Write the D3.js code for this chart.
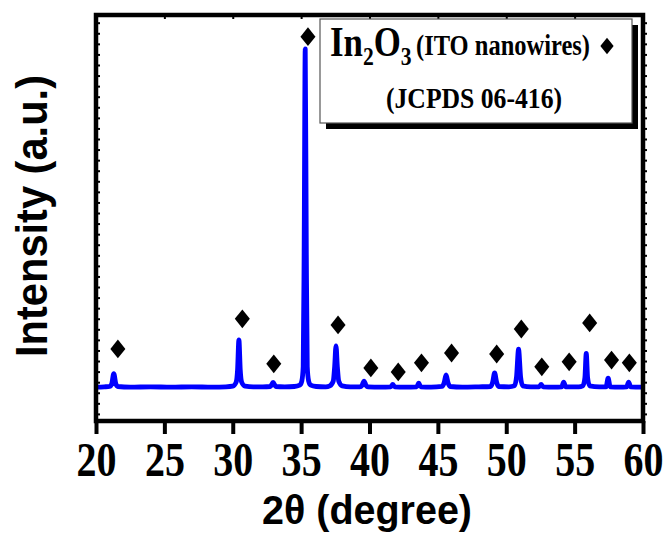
<!DOCTYPE html>
<html>
<head>
<meta charset="utf-8">
<script src="https://cdn.jsdelivr.net/npm/d3@7"></script>
<style>
  body { margin: 0; background: #fff; }
  svg { display: block; }
</style>
</head>
<body>
<svg id="chart" width="670" height="540"></svg>
<script>
// XRD pattern of In2O3 (ITO nanowires): 2θ in degrees, intensity in arbitrary units
const twoTheta = [
  20.0, 20.6, 21.0, 21.15, 21.3, 21.45, 21.6, 22.5, 24.0, 25.5, 27.0, 28.5, 29.5,
  30.0, 30.25, 30.35, 30.45, 30.55, 30.65, 30.9, 31.5, 32.2, 32.75, 32.95, 33.15,
  33.8, 34.5, 34.9, 35.05, 35.15, 35.22, 35.3, 35.38, 35.45, 35.55, 35.7, 36.1,
  36.8, 37.1, 37.35, 37.45, 37.55, 37.65, 37.75, 38.0, 38.6, 39.3, 39.45, 39.6,
  39.75, 39.9, 40.8, 41.55, 41.7, 41.85, 42.6, 43.45, 43.6, 43.75, 44.5, 45.3,
  45.45, 45.6, 45.75, 45.9, 46.8, 48.0, 48.85, 49.0, 49.15, 49.3, 49.45, 50.2,
  50.6, 50.75, 50.9, 51.05, 51.2, 51.8, 52.4, 52.55, 52.7, 53.5, 54.05, 54.2,
  54.35, 55.3, 55.6, 55.75, 55.85, 55.95, 56.1, 56.8, 57.3, 57.45, 57.6, 58.3,
  58.8, 58.95, 59.1, 60.0
];
const intensity = [
  100, 101, 102, 110, 140, 110, 102, 100, 101, 100, 101, 100, 101,
  103, 115, 150, 240, 150, 115, 103, 101, 101, 102, 114, 102,
  101, 102, 106, 118, 160, 500, 1100, 500, 160, 118, 106, 102,
  101, 104, 118, 160, 222, 160, 118, 104, 101, 101, 105, 118,
  105, 101, 100, 101, 108, 101, 100, 101, 112, 101, 100, 102,
  112, 136, 112, 102, 100, 101, 102, 114, 142, 114, 102, 101,
  104, 130, 212, 130, 104, 101, 101, 108, 101, 100, 101, 115,
  101, 101, 104, 128, 200, 128, 104, 101, 101, 127, 101, 100,
  101, 115, 101, 100
];

// In2O3 reflections marked with diamonds (2θ, marker height in the same units)
const markerTheta = [21.6, 30.7, 33.0, 35.5, 37.7, 40.1, 42.1, 43.8, 46.0, 49.3, 51.1, 52.6, 54.6, 56.1, 57.7, 59.0];
const markerLevel = [213, 302, 169, 1136, 284, 157, 145, 172, 201, 198, 272, 160, 175, 290, 180, 172];

const xTicks = [20, 25, 30, 35, 40, 45, 50, 55, 60];
const xTickLabels = ["20", "25", "30", "35", "40", "45", "50", "55", "60"];
const yMinorTicks = d3.range(21, 1200, 31.25);

const xTitle = "2θ (degree)";
const yTitle = "Intensity (a.u.)";
const legendPhase = "(ITO nanowires)";
const legendLine2 = "(JCPDS 06-416)";

const svg = d3.select("#chart");
const x = d3.scaleLinear().domain([20, 60]).range([96, 643]);
const y = d3.scaleLinear().domain([0, 1200]).range([421, 15]);

const serif = "'Liberation Serif', 'Times New Roman', serif";
const sans = "'Liberation Sans', Arial, sans-serif";

// diamond marker: slightly taller than wide
const diamond = {
  draw(ctx, size) {
    const h = Math.sqrt(size) * 0.62, w = h * 0.8;
    ctx.moveTo(0, -h); ctx.lineTo(w, 0); ctx.lineTo(0, h); ctx.lineTo(-w, 0); ctx.closePath();
  }
};

// ---- axes ----
const axBottom = svg.append("g").attr("transform", `translate(0,${y.range()[0]})`)
  .call(d3.axisBottom(x).tickValues(xTicks).tickFormat((d, i) => xTickLabels[i]).tickSize(13).tickPadding(8));
axBottom.select(".domain").remove();
axBottom.selectAll(".tick line").attr("stroke", "#000").attr("stroke-width", 4);
axBottom.selectAll(".tick text")
  .attr("font-family", serif).attr("font-weight", "bold").attr("font-size", 48)
  .attr("fill", "#000")
  .attr("textLength", 40).attr("lengthAdjust", "spacingAndGlyphs");

const axTop = svg.append("g").attr("transform", `translate(0,${y.range()[1]})`)
  .call(d3.axisBottom(x).tickValues(xTicks).tickSize(4).tickFormat(""));
axTop.select(".domain").remove();
axTop.selectAll(".tick line").attr("stroke", "#000").attr("stroke-width", 2);

const axLeft = svg.append("g").attr("transform", `translate(${x.range()[0]},0)`)
  .call(d3.axisRight(y).tickValues(yMinorTicks).tickSize(4).tickFormat(""));
axLeft.select(".domain").remove();
axLeft.selectAll(".tick line").attr("stroke", "#000").attr("stroke-width", 2);

const axRight = svg.append("g").attr("transform", `translate(${x.range()[1]},0)`)
  .call(d3.axisRight(y).tickValues(yMinorTicks).tickSize(4).tickFormat(""));
axRight.select(".domain").remove();
axRight.selectAll(".tick line").attr("stroke", "#000").attr("stroke-width", 2);

// ---- pattern ----
const pts = twoTheta.map((t, i) => [t, intensity[i]]);
svg.append("path")
  .datum(pts)
  .attr("fill", "none")
  .attr("stroke", "#0000ff")
  .attr("stroke-width", 4.8)
  .attr("stroke-linejoin", "round")
  .attr("d", d3.line().x(d => x(d[0])).y(d => y(d[1])).curve(d3.curveMonotoneX));

// ---- reflection markers ----
svg.append("g").selectAll("path")
  .data(markerTheta.map((t, i) => [t, markerLevel[i]]))
  .join("path")
  .attr("transform", d => `translate(${x(d[0])},${y(d[1])})`)
  .attr("d", d3.symbol().type(diamond).size(230))
  .attr("fill", "#000");

// ---- frame ----
svg.append("rect")
  .attr("x", x.range()[0]).attr("y", y.range()[1])
  .attr("width", x.range()[1] - x.range()[0])
  .attr("height", y.range()[0] - y.range()[1])
  .attr("fill", "none").attr("stroke", "#000").attr("stroke-width", 4.5);

// ---- legend ----
const lg = svg.append("g");
const bx = 320, by = 19, bw = 312, bh = 104;
lg.append("rect").attr("x", bx + 6).attr("y", by + 6).attr("width", bw).attr("height", bh).attr("fill", "#000");
lg.append("rect").attr("x", bx).attr("y", by).attr("width", bw).attr("height", bh)
  .attr("fill", "#fff").attr("stroke", "#555").attr("stroke-width", 1.2);

// chemical formula with subscripts, narrowed horizontally
const formula = lg.append("text")
  .attr("transform", "translate(330,56) scale(0.83,1)")
  .attr("font-family", serif).attr("font-weight", "bold").attr("fill", "#000");
formula.append("tspan").attr("font-size", 42).text("In");
formula.append("tspan").attr("font-size", 26).attr("dy", 9).text("2");
formula.append("tspan").attr("font-size", 42).attr("dy", -9).text("O");
formula.append("tspan").attr("font-size", 26).attr("dy", 9).text("3");

lg.append("text")
  .attr("x", 416).attr("y", 55)
  .attr("font-family", serif).attr("font-weight", "bold").attr("font-size", 29)
  .attr("textLength", 174).attr("lengthAdjust", "spacingAndGlyphs")
  .attr("fill", "#000")
  .text(legendPhase);

lg.append("path")
  .attr("transform", "translate(607,46)")
  .attr("d", d3.symbol().type(diamond).size(180))
  .attr("fill", "#000");

lg.append("text")
  .attr("x", 474).attr("y", 108)
  .attr("text-anchor", "middle")
  .attr("font-family", serif).attr("font-weight", "bold").attr("font-size", 29)
  .attr("textLength", 176).attr("lengthAdjust", "spacingAndGlyphs")
  .attr("fill", "#000")
  .text(legendLine2);

// ---- axis titles ----
svg.append("text")
  .attr("x", 367).attr("y", 524)
  .attr("text-anchor", "middle")
  .attr("font-family", sans).attr("font-weight", "bold").attr("font-size", 41)
  .attr("textLength", 210).attr("lengthAdjust", "spacingAndGlyphs")
  .attr("fill", "#000")
  .text(xTitle);

svg.append("text")
  .attr("transform", "translate(47,216) rotate(-90)")
  .attr("text-anchor", "middle")
  .attr("font-family", sans).attr("font-weight", "bold").attr("font-size", 44)
  .attr("textLength", 282).attr("lengthAdjust", "spacingAndGlyphs")
  .attr("fill", "#000")
  .text(yTitle);
</script>
</body>
</html>
